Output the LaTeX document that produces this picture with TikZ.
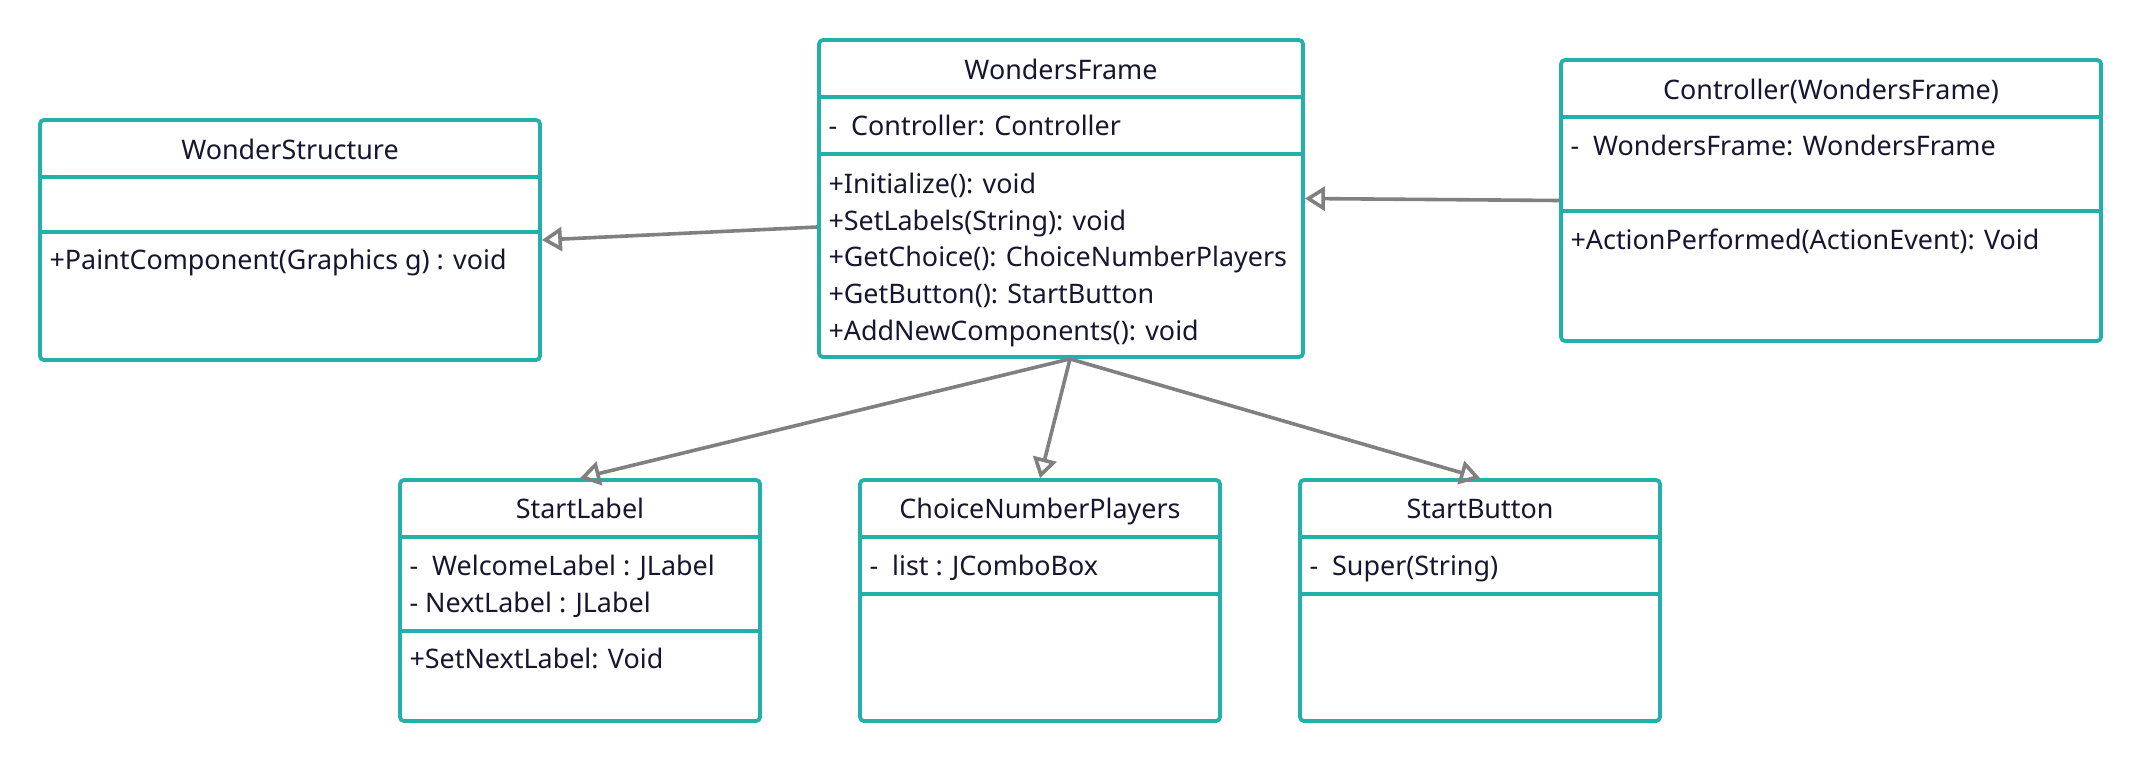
\documentclass[tikz,border=0pt]{standalone}
\usepackage{fontspec}
\setmainfont{Noto Sans}
\usepackage{xcolor}
\usetikzlibrary{arrows.meta,positioning,calc}
\definecolor{umlteal}{HTML}{22B1AA}
\definecolor{umlgray}{HTML}{808080}
\definecolor{umlink}{HTML}{161630}
\newcommand{\umlfont}{\fontsize{13.45pt}{18pt}\selectfont}
\tikzset{
  classbox/.style={draw=umlteal,fill=white,line width=1.9pt,rounded corners=2pt,
                   inner sep=0pt},
  divider/.style={draw=umlteal,line width=1.9pt},
  classname/.style={anchor=base,inner sep=0pt,font=\umlfont,text=umlink},
  member/.style={anchor=base west,inner sep=0pt,font=\umlfont,text=umlink},
  inherit/.style={-{Triangle[open,length=10pt,width=12pt]},line width=1.8pt,
                  draw=umlgray}
}

\begin{document}
\begin{tikzpicture}[x=0.5pt,y=-0.5pt]
    \path[use as bounding box] (0,0) rectangle (2140,762);

    % class boxes
    \node[classbox,minimum width=250pt,minimum height=120pt] (ws) at (290,240) {};
    \node[classbox,minimum width=242pt,minimum height=158.5pt] (wf) at (1061,198.5) {};
    \node[classbox,minimum width=270pt,minimum height=140.5pt] (ctrl) at (1831,200.5) {};
    \node[classbox,minimum width=180pt,minimum height=120.5pt] (sl) at (580,600.5) {};
    \node[classbox,minimum width=180pt,minimum height=120.5pt] (cnp) at (1040,600.5) {};
    \node[classbox,minimum width=180pt,minimum height=120.5pt] (sb) at (1480,600.5) {};

    % compartments
    \foreach \b/\ya/\yb in {ws/177/232,wf/97/154,ctrl/117/211,sl/537/631,
                            cnp/537/594,sb/537/594}{
      \draw[divider] (\b.west |- 0,\ya) -- (\b.east |- 0,\ya);
      \draw[divider] (\b.west |- 0,\yb) -- (\b.east |- 0,\yb);
    }

    % names
    \node[classname] (ws-name) at (ws.north |- 0,159) {WonderStructure};
    \node[classname] (wf-name) at (wf.north |- 0,79) {WondersFrame};
    \node[classname] (ctrl-name) at (ctrl.north |- 0,99) {Controller(WondersFrame)};
    \node[classname] (sl-name) at (sl.north |- 0,518) {StartLabel};
    \node[classname] (cnp-name) at (cnp.north |- 0,518) {ChoiceNumberPlayers};
    \node[classname] (sb-name) at (sb.north |- 0,518) {StartButton};

    % attributes and operations
    \node[member] (ws-op1) at ($(ws.west |- 0,269)+(11,0)$)
      {+PaintComponent(Graphics g) : void};

    \node[member] (wf-at1) at ($(wf.west |- 0,135)+(11,0)$)
      {-\ \ Controller: Controller};
    \foreach \m [count=\i] in {+Initialize(): void,+SetLabels(String): void,
        +GetChoice(): ChoiceNumberPlayers,+GetButton(): StartButton,
        +AddNewComponents(): void}{
      \node[member] (wf-op\i) at ($(wf.west |- 0,156.6)+(11,36.7*\i)$) {\m};
    }

    \node[member] (ctrl-at1) at ($(ctrl.west |- 0,155)+(11,0)$)
      {-\ \ WondersFrame: WondersFrame};
    \node[member] (ctrl-op1) at ($(ctrl.west |- 0,249)+(11,0)$)
      {+ActionPerformed(ActionEvent): Void};

    \node[member] (sl-at1) at ($(sl.west |- 0,575)+(11,0)$)
      {-\ \ WelcomeLabel : JLabel};
    \node[member] (sl-at2) at ($(sl.west |- 0,612)+(11,0)$)
      {- NextLabel : JLabel};
    \node[member] (sl-op1) at ($(sl.west |- 0,668)+(11,0)$)
      {+SetNextLabel: Void};

    \node[member] (cnp-at1) at ($(cnp.west |- 0,575)+(11,0)$)
      {-\ \ list : JComboBox};
    \node[member] (sb-at1) at ($(sb.west |- 0,575)+(11,0)$)
      {-\ \ Super(String)};

    % generalisations
    \coordinate (wf-foot) at ($(wf.south)+(9,0)$);
    \draw[inherit] ([yshift=-14.25pt]wf.west) -- (ws.east);
    \draw[inherit] (ctrl.west) -- (wf.east);
    \draw[inherit] (wf-foot) -- (sl.north);
    \draw[inherit] (wf-foot) -- (cnp.north);
    \draw[inherit] (wf-foot) -- (sb.north);
  \end{tikzpicture}
\end{document}
